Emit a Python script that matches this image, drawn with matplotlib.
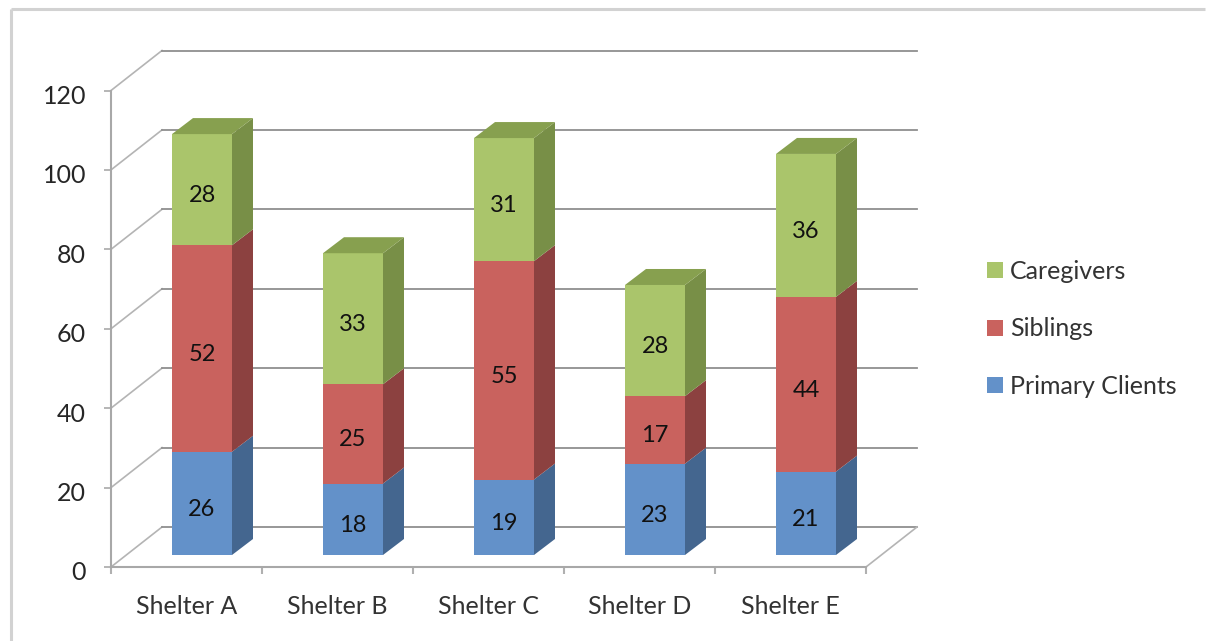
import matplotlib
matplotlib.use("Agg")
import matplotlib.pyplot as plt
from matplotlib.patches import Polygon, Patch, Rectangle
from matplotlib.transforms import ScaledTranslation

plt.rcParams["font.family"] = ["Lato", "DejaVu Sans"]

shelters = ["Shelter A", "Shelter B", "Shelter C", "Shelter D", "Shelter E"]
primary_clients = [26, 18, 19, 23, 21]
siblings = [52, 25, 55, 17, 44]
caregivers = [28, 33, 31, 28, 36]
value_ticks = [0, 20, 40, 60, 80, 100, 120]

series_names = ["Primary Clients", "Siblings", "Caregivers"]
series_values = [primary_clients, siblings, caregivers]
front_colors = ["#6391C9", "#C9625E", "#AAC56B"]
side_colors = ["#44668F", "#8C4140", "#788F47"]
top_colors = ["#4F77A8", "#A34F4C", "#87A04F"]

W, H, DPI = 1208, 641, 100
fig = plt.figure(figsize=(W / DPI, H / DPI), dpi=DPI, facecolor="white")

# Outer chart frame: only the top and left edges show
for xs, ys in [((10.5, 1205), (9, 9)), ((10.5, 10.5), (9, 641))]:
    fig.add_artist(plt.Line2D([x / W for x in xs], [1 - y / H for y in ys],
                              color="#D2D2D2", lw=2.2, solid_capstyle="butt"))

AX_L, AX_R, AX_T, AX_B = 111, 866, 90.5, 567
ax = fig.add_axes([AX_L / W, 1 - AX_B / H, (AX_R - AX_L) / W, (AX_B - AX_T) / H])
ax.set_xlim(0, len(shelters))
ax.set_ylim(0, 120)
ax.patch.set_alpha(0)

px_x = len(shelters) / (AX_R - AX_L)
px_y = 120 / (AX_B - AX_T)

# Oblique projection depths, in data units
wall_dx, wall_dy = 51 * px_x, 40 * px_y
bar_dx, bar_dy = 21 * px_x, 16 * px_y
base_dx, base_dy = 15.5 * px_x, 12 * px_y
bar_width = 60 * px_x

GRID = "#8F8F8F"
WALL = "#B4B4B4"
for v in value_ticks:
    ax.plot([0, wall_dx], [v, v + wall_dy], color=WALL, lw=1.2, clip_on=False, zorder=1)
    ax.plot([wall_dx, len(shelters) + wall_dx], [v + wall_dy] * 2,
            color=GRID, lw=1.3, clip_on=False, zorder=1)
n = len(shelters)
ax.plot([n, n + wall_dx], [0, wall_dy], color=WALL, lw=1.2, clip_on=False, zorder=1)

label_shift = ScaledTranslation(0, -6 / DPI, fig.dpi_scale_trans)
for i, name in enumerate(shelters):
    left = i + 0.5 - bar_width / 2 + base_dx
    right = left + bar_width
    bottom = 0
    for s, vals in enumerate(series_values):
        v = vals[i]
        y0 = bottom + base_dy
        y1 = y0 + v
        ax.add_patch(Rectangle((left, y0), bar_width, v, fc=front_colors[s], ec="none",
                               clip_on=False, zorder=3))
        ax.add_patch(Polygon([(right, y0), (right + bar_dx, y0 + bar_dy),
                              (right + bar_dx, y1 + bar_dy), (right, y1)],
                             fc=side_colors[s], ec="none", clip_on=False, zorder=3))
        if s == len(series_values) - 1:
            ax.add_patch(Polygon([(left, y1), (left + bar_dx, y1 + bar_dy),
                                  (right + bar_dx, y1 + bar_dy), (right, y1)],
                                 fc=top_colors[s], ec="none", clip_on=False, zorder=3))
        ax.text((left + right) / 2, y0 + v / 2, str(v), ha="center", va="center",
                fontsize=17, color="#111111", zorder=4,
                transform=ax.transData + label_shift)
        bottom += v

# Axes, ticks and tick labels
for side in ("top", "right"):
    ax.spines[side].set_visible(False)
for side in ("left", "bottom"):
    ax.spines[side].set_color("#A8A8A8")
    ax.spines[side].set_linewidth(1.5)
ax.set_yticks(value_ticks)
ax.set_xticks(range(n + 1))
ax.set_xticks([i + 0.5 for i in range(n)], labels=shelters, minor=True)
ax.set_xticklabels([])
ax.tick_params(axis="y", length=5, width=1.3, color="#B0B0B0", pad=13,
               labelsize=18, labelcolor="#262626")
ax.tick_params(axis="x", which="major", length=5, width=1.5, color="#B0B0B0")
ax.tick_params(axis="x", which="minor", length=0, pad=20, labelsize=18, labelcolor="#333333")
tick_shift = ScaledTranslation(0, -4 / DPI, fig.dpi_scale_trans)
for lab in ax.get_yticklabels():
    lab.set_transform(lab.get_transform() + tick_shift)

handles = [Patch(fc=front_colors[s], ec="none", label=series_names[s]) for s in (2, 1, 0)]
fig.legend(handles=handles, loc="center left",
           bbox_to_anchor=(987 / W, 1 - 329 / H), frameon=False, fontsize=18,
           labelcolor="#333333", handlelength=0.64, handleheight=0.6,
           handletextpad=0.28, labelspacing=1.38, borderpad=0, borderaxespad=0)

fig.savefig("out.png", dpi=DPI)
